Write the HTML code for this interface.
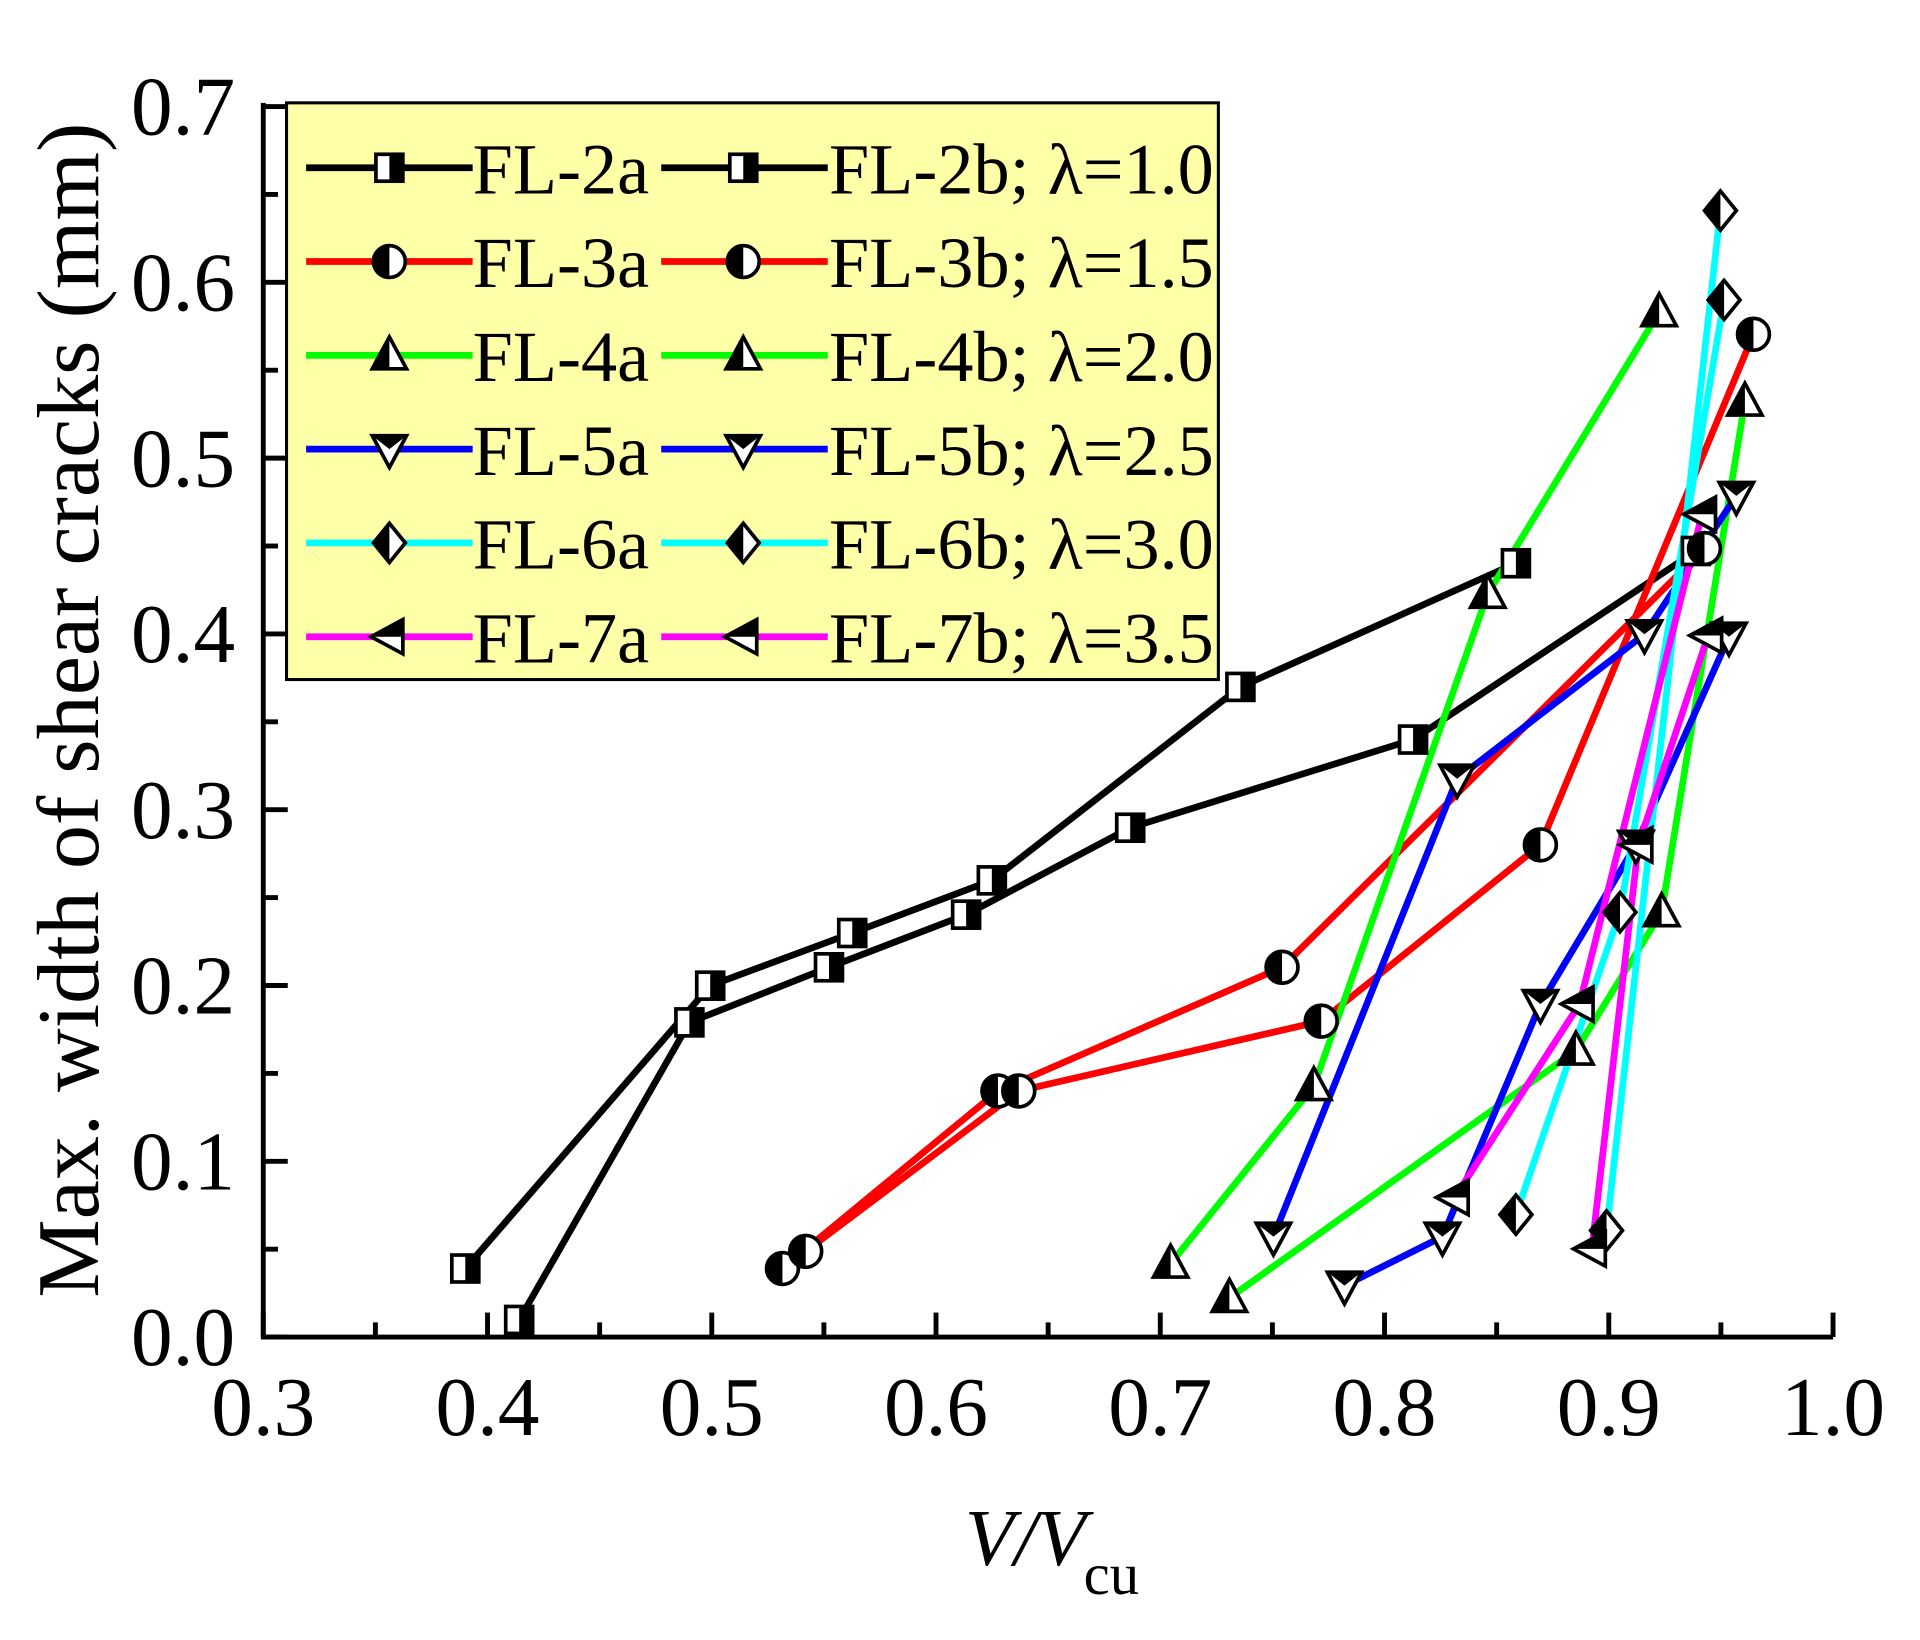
<!DOCTYPE html>
<html><head><meta charset="utf-8"><style>html,body{margin:0;padding:0;background:#fff}svg{display:block}</style></head>
<body>
<svg id="s" width="1920" height="1640" viewBox="0 0 1568 1339.4" preserveAspectRatio="none" xmlns="http://www.w3.org/2000/svg" font-family="Liberation Serif, serif">
<rect x="0" y="0" width="1568" height="1340" fill="#fff"/>
<g id="g"></g>
</svg>
<script>
const g=document.getElementById('g');let h='';
const X=v=>215+(v-0.3)*1831.4, Y=w=>1092-w*1435.7;
h+=`<path d="M215,84 V1092 H1497" fill="none" stroke="#000" stroke-width="4"/>`;
for(let i=0;i<=14;i++){const v=0.3+i*0.05,x=X(v),L=i%2?12:20;h+=`<line x1="${x}" y1="1092" x2="${x}" y2="${1092-L}" stroke="#000" stroke-width="4"/>`;
 if(i%2==0)h+=`<text x="${x}" y="1172" font-size="68" text-anchor="middle">${v.toFixed(1)}</text>`;}
for(let i=0;i<=14;i++){const w=i*0.05,y=Y(w),L=i%2?12:20;h+=`<line x1="215" y1="${y}" x2="${215+L}" y2="${y}" stroke="#000" stroke-width="4"/>`;
 if(i%2==0)h+=`<text x="192" y="${y+23}" font-size="68" text-anchor="end">${w.toFixed(1)}</text>`;}
h+=`<text transform="translate(80,580) rotate(-90)" font-size="72" text-anchor="middle">Max. width of shear cracks (mm)</text>`;
h+=`<text x="788" y="1278" font-size="66" font-style="italic">V/V</text><text x="885" y="1302" font-size="48">cu</text>`;
function mk(t,x,y,s){const r=13;let o='';
 if(t=='sq'){o+=`<rect x="${x-11}" y="${y-11}" width="22" height="22" fill="#fff" stroke="#000" stroke-width="3"/><rect x="${x}" y="${y-11}" width="11" height="22" fill="#000"/>`;}
 else if(t=='ci'){o+=`<circle cx="${x}" cy="${y}" r="${r}" fill="#fff" stroke="#000" stroke-width="3"/><path d="M${x},${y-r}A${r},${r} 0 0 0 ${x},${y+r}Z" fill="#000"/>`;}
 else if(t=='tu'){o+=`<path d="M${x},${y-15}L${x+14},${y+11}L${x-14},${y+11}Z" fill="#fff" stroke="#000" stroke-width="3"/><path d="M${x},${y-15}L${x},${y+11}L${x-14},${y+11}Z" fill="#000"/>`;}
 else if(t=='td'){o+=`<path d="M${x},${y+15}L${x+14},${y-11}L${x-14},${y-11}Z" fill="#fff" stroke="#000" stroke-width="3"/><path d="M${x-14},${y-11}L${x+14},${y-11}L${x},${y}Z" fill="#000"/>`;}
 else if(t=='di'){o+=`<path d="M${x},${y-16}L${x+13},${y}L${x},${y+16}L${x-13},${y}Z" fill="#fff" stroke="#000" stroke-width="3"/><path d="M${x},${y-16}L${x},${y+16}L${x-13},${y}Z" fill="#000"/>`;}
 else if(t=='tl'){o+=`<path d="M${x-15},${y}L${x+11},${y-14}L${x+11},${y+14}Z" fill="#fff" stroke="#000" stroke-width="3"/><path d="M${x-15},${y}L${x+11},${y-14}L${x+11},${y}Z" fill="#000"/>`;}
 return o;}
const S=[
['#000','sq',[[380,1036],[580,805],[696,762],[810,719],[1013,561],[1238,460]]],
['#000','sq',[[424,1078],[563,835],[677,790],[789,747],[923,676],[1154,604],[1385,450]]],
['#f00','ci',[[639,1036],[815,891],[1047,790],[1392,448]]],
['#f00','ci',[[658,1022],[832,891],[1079,834],[1258,690],[1432,273]]],
['#0f0','tu',[[956,1032],[1073,887],[1215,485],[1355,255]]],
['#0f0','tu',[[1004,1060],[1287,858],[1357,745],[1425,328]]],
['#00f','td',[[1040,1010],[1190,636],[1343,518],[1418,405]]],
['#00f','td',[[1098,1050],[1178,1010],[1258,820],[1336,690],[1412,520]]],
['#0ff','di',[[1238,992],[1323,745],[1408,245]]],
['#0ff','di',[[1312,1005],[1405,172]]],
['#f0f','tl',[[1188,978],[1290,820],[1390,420]]],
['#f0f','tl',[[1300,1020],[1338,690],[1395,519]]]];
for(const [c,t,p] of S)h+=`<polyline points="${p.map(q=>q.join(',')).join(' ')}" fill="none" stroke="${c}" stroke-width="5.5"/>`;
for(const [c,t,p] of S)for(const q of p)h+=mk(t,q[0],q[1]);
h+=`<rect x="234" y="84" width="761" height="471" fill="#ffffa8" stroke="#000" stroke-width="2.5"/>`;
const L=[['#000','sq','FL-2a','FL-2b; λ=1.0'],['#f00','ci','FL-3a','FL-3b; λ=1.5'],['#0f0','tu','FL-4a','FL-4b; λ=2.0'],['#00f','td','FL-5a','FL-5b; λ=2.5'],['#0ff','di','FL-6a','FL-6b; λ=3.0'],['#f0f','tl','FL-7a','FL-7b; λ=3.5']];
L.forEach((l,i)=>{const y=137+i*76.6;
 h+=`<line x1="250" y1="${y}" x2="386" y2="${y}" stroke="${l[0]}" stroke-width="5.5"/>`+mk(l[1],318,y);
 h+=`<line x1="540" y1="${y}" x2="676" y2="${y}" stroke="${l[0]}" stroke-width="5.5"/>`+mk(l[1],607,y);
 h+=`<text x="386" y="${y+21}" font-size="59">${l[2]}</text><text x="677" y="${y+21}" font-size="59">${l[3]}</text>`;});
g.innerHTML=h;
</script>
</body></html>
